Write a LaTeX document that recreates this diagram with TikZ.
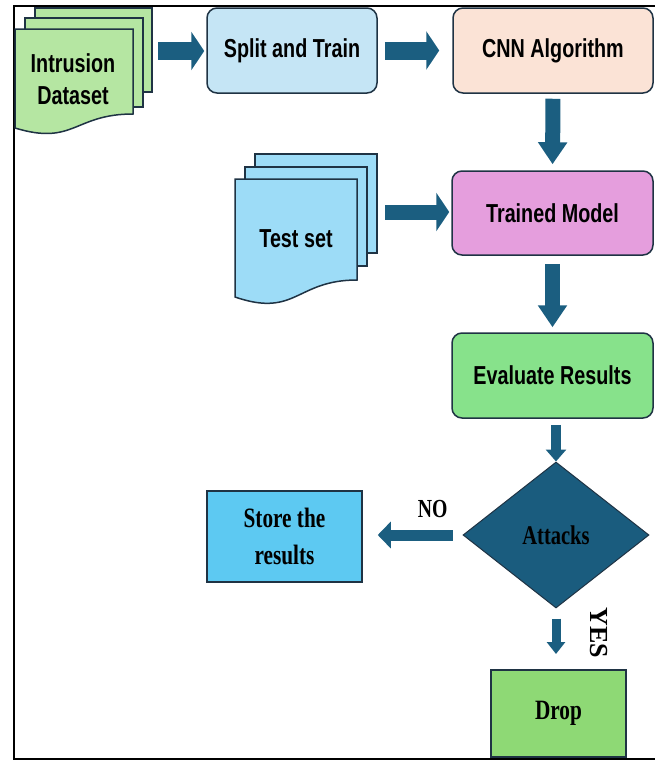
\documentclass[tikz,border=0pt]{standalone}
\usepackage{fontspec}
\setmainfont{Liberation Serif}
\setsansfont{Liberation Sans}
\usepackage{graphicx}
\usetikzlibrary{arrows.meta,shapes.geometric}

\newcommand{\sqz}[1]{\scalebox{0.76}[1]{#1}}

\begin{document}
\begin{tikzpicture}[x=1pt,y=-1pt,
    box/.style={draw=edgecolor,line width=1.5pt,rounded corners=10pt,text=black,
      font=\sffamily\bfseries\fontsize{26}{32}\selectfont},
    plainbox/.style={draw=edgecolor,line width=1.5pt,align=center,text=black,
      font=\bfseries\fontsize{28}{37}\selectfont},
    docstyle/.style={draw=edgecolor,line width=1.5pt},
    doctext/.style={align=center,text=black,font=\sffamily\bfseries\fontsize{26}{32}\selectfont},
    bigarrow/.style={arrowcolor,line width=18pt,-{Triangle[length=13pt,width=38pt]}},
    downarrow/.style={arrowcolor,line width=15pt,-{Triangle[length=22pt,width=28pt]}},
    smallarrow/.style={arrowcolor,line width=10pt,-{Triangle[length=12pt,width=20pt]}},
    lbl/.style={text=black,font=\bfseries\fontsize{26}{30}\selectfont}]

    \definecolor{edgecolor}{HTML}{1F3344}
    \definecolor{arrowcolor}{HTML}{1B5E80}
    \definecolor{datacolor}{HTML}{B5E6A2}
    \definecolor{splitcolor}{HTML}{C5E5F5}
    \definecolor{cnncolor}{HTML}{FBE3D6}
    \definecolor{testcolor}{HTML}{9DDCF7}
    \definecolor{trainedcolor}{HTML}{E59EDD}
    \definecolor{evalcolor}{HTML}{87E28B}
    \definecolor{attackcolor}{HTML}{1A5C7E}
    \definecolor{storecolor}{HTML}{5DC9F2}
    \definecolor{dropcolor}{HTML}{8ED975}

    \useasboundingbox (0,0) rectangle (655,761);
    \draw[line width=1.5pt] (655,6) -- (14,6) -- (14,759) -- (655,759);

    % intrusion dataset stack
    \filldraw[docstyle,fill=datacolor] (35,8) rectangle (152,92);
    \filldraw[docstyle,fill=datacolor] (25,18) rectangle (143,107);
    \filldraw[docstyle,fill=datacolor] (15,29) -- (133,29) -- (133,114)
        .. controls (74,114) and (74,146) .. (15,128) -- cycle;
    \node[doctext] (data) at (73,79) {\sqz{Intrusion}\\\sqz{Dataset}};
    \coordinate (dataedge) at (152,51);

    % test set stack
    \filldraw[docstyle,fill=testcolor] (255,154) rectangle (377,253);
    \filldraw[docstyle,fill=testcolor] (245,167) rectangle (367,266);
    \filldraw[docstyle,fill=testcolor] (235,179) -- (357,179) -- (357,280)
        .. controls (296,280) and (296,318) .. (235,297) -- cycle;
    \node[doctext] (test) at (296,239) {\sqz{Test set}};
    \coordinate (testedge) at (377,212);

    \node[box,fill=splitcolor,minimum width=170pt,minimum height=85pt] (split) at (292,50.5) {\sqz{Split and Train}};
    \node[box,fill=cnncolor,minimum width=200pt,minimum height=85pt] (cnn) at (553,50.5) {\sqz{CNN Algorithm}};
    \node[box,fill=trainedcolor,minimum width=201pt,minimum height=84pt] (trained) at (552.5,213) {\sqz{Trained Model}};
    \node[box,fill=evalcolor,minimum width=201pt,minimum height=85pt] (evaluate) at (552.5,375.5) {\sqz{Evaluate Results}};

    \node[diamond,draw=edgecolor,line width=1pt,fill=attackcolor,inner sep=0pt,text=black,
        minimum width=186pt,minimum height=146pt,
        font=\bfseries\fontsize{27}{30}\selectfont] (attacks) at (556,535) {\sqz{Attacks}};

    \node[plainbox,fill=storecolor,minimum width=155pt,minimum height=91pt] (store) at (284.5,536.5) {\sqz{Store the}\\\sqz{results}};
    \node[plainbox,fill=dropcolor,line width=2pt,minimum width=135pt,minimum height=87pt] (drop) at (558.5,713.5) {\sqz{Drop}};

    % connectors
    \draw[bigarrow,shorten <=6pt,shorten >=2pt] (dataedge) -- (split.west |- dataedge);
    \draw[bigarrow,shorten <=7pt,shorten >=13pt] (split.east) -- (cnn.west);
    \draw[downarrow,shorten <=5pt,shorten >=6pt] (cnn.south) -- (trained.north);
    \draw[bigarrow,line width=15pt,shorten <=8pt,shorten >=2pt] (testedge) -- (trained.west |- testedge);
    \draw[downarrow,shorten <=8pt,shorten >=5pt] (trained.south) -- (evaluate.north);
    \draw[smallarrow,shorten <=6pt] (attacks.north |- evaluate.south) -- (attacks.north);
    \draw[smallarrow,line width=11pt,-{Triangle[length=13pt,width=26pt]},shorten <=10pt,shorten >=15pt]
        (attacks.west) -- node[lbl,pos=0.3,above=8pt] (no) {\sqz{NO}} (store.east |- attacks.west);
    \draw[smallarrow,line width=9pt,-{Triangle[length=12pt,width=18pt]},shorten <=10pt,shorten >=15pt]
        (attacks.south) -- (attacks.south |- drop.north);
    \node[lbl,rotate=-90] (yes) at (599,633) {YES};

\end{tikzpicture}
\end{document}
